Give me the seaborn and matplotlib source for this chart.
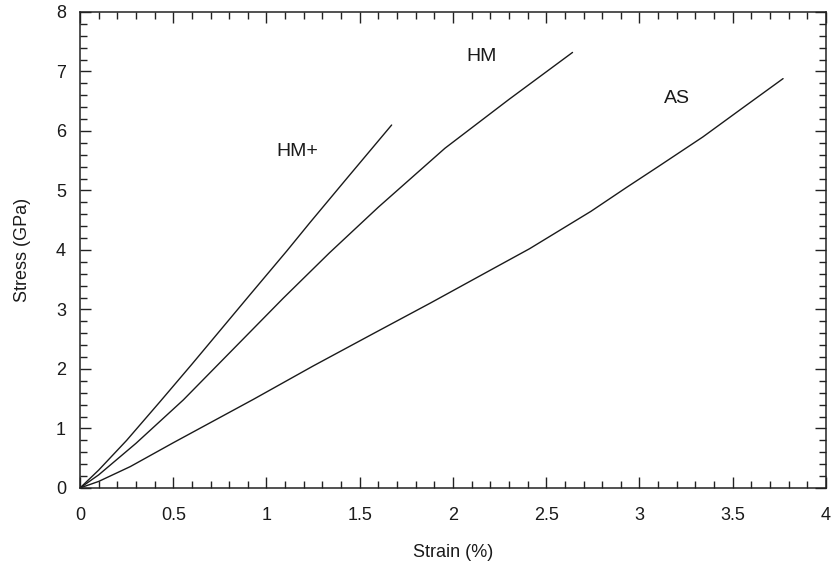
import matplotlib
matplotlib.use("Agg")
import matplotlib.pyplot as plt
import seaborn as sns
import pandas as pd
from matplotlib.ticker import MultipleLocator

# ---- data ----
hmplus_strain = [0, 0.1, 0.25, 0.429, 0.6, 0.912, 1.108, 1.233, 1.43, 1.671]
hmplus_stress = [0, 0.3, 0.8, 1.45, 2.08, 3.25, 3.98, 4.46, 5.2, 6.10]

hm_strain = [0, 0.1, 0.3, 0.554, 1.09, 1.337, 1.6, 1.957, 2.3, 2.641]
hm_stress = [0, 0.22, 0.75, 1.48, 3.19, 3.95, 4.72, 5.71, 6.53, 7.32]

as_strain = [0, 0.1, 0.27, 0.5, 0.93, 1.25, 1.57, 1.88, 2.2, 2.41, 2.74, 2.93, 3.1, 3.34, 3.55, 3.77]
as_stress = [0, 0.11, 0.36, 0.76, 1.49, 2.05, 2.59, 3.11, 3.66, 4.02, 4.65, 5.05, 5.4, 5.9, 6.38, 6.88]

labels = ["HM+", "HM", "AS"]
label_x = [1.164, 2.155, 3.20]
label_y = [5.65, 7.26, 6.54]

x_ticks = [0, 0.5, 1, 1.5, 2, 2.5, 3, 3.5, 4]
x_tick_labels = ["0", "0.5", "1", "1.5", "2", "2.5", "3", "3.5", "4"]
y_ticks = [0, 1, 2, 3, 4, 5, 6, 7, 8]

frames = []
for name, xs, ys in [("HM+", hmplus_strain, hmplus_stress),
                     ("HM", hm_strain, hm_stress),
                     ("AS", as_strain, as_stress)]:
    frames.append(pd.DataFrame({"strain": xs, "stress": ys, "fiber": name}))
df = pd.concat(frames, ignore_index=True)

sns.set_theme(style="ticks")
plt.rcParams["font.family"] = ["Liberation Sans", "DejaVu Sans"]

fig = plt.figure(figsize=(8.36, 5.70), dpi=100)
ax = fig.add_axes([0.0957, 0.1439, 0.8923, 0.8351])

sns.lineplot(data=df, x="strain", y="stress", hue="fiber", units="fiber",
             estimator=None, sort=False, palette=["#1a1a1a"] * 3,
             linewidth=1.0, legend=False, ax=ax)

for t, x, y in zip(labels, label_x, label_y):
    ax.text(x, y, t, fontsize=14, ha="center", va="center", color="#1a1a1a")

ax.set_xlim(0, 4)
ax.set_ylim(0, 8)
ax.set_xticks(x_ticks)
ax.set_xticklabels(x_tick_labels)
ax.set_yticks(y_ticks)
ax.xaxis.set_minor_locator(MultipleLocator(0.1))
ax.yaxis.set_minor_locator(MultipleLocator(0.2))
ax.tick_params(which="both", direction="in", top=True, right=True,
               color="#222222", width=1.0, labelsize=13, labelcolor="#1a1a1a")
ax.tick_params(axis="x", which="both", pad=14)
ax.tick_params(axis="y", which="both", pad=10)
ax.tick_params(which="major", length=8)
ax.tick_params(which="minor", length=5)
for s in ax.spines.values():
    s.set_linewidth(1.1)
    s.set_color("#222222")

ax.set_xlabel("Strain (%)", fontsize=13, labelpad=14, color="#1a1a1a")
ax.set_ylabel("Stress (GPa)", fontsize=13, labelpad=18, color="#1a1a1a")

fig.savefig("out.png", dpi=100)
